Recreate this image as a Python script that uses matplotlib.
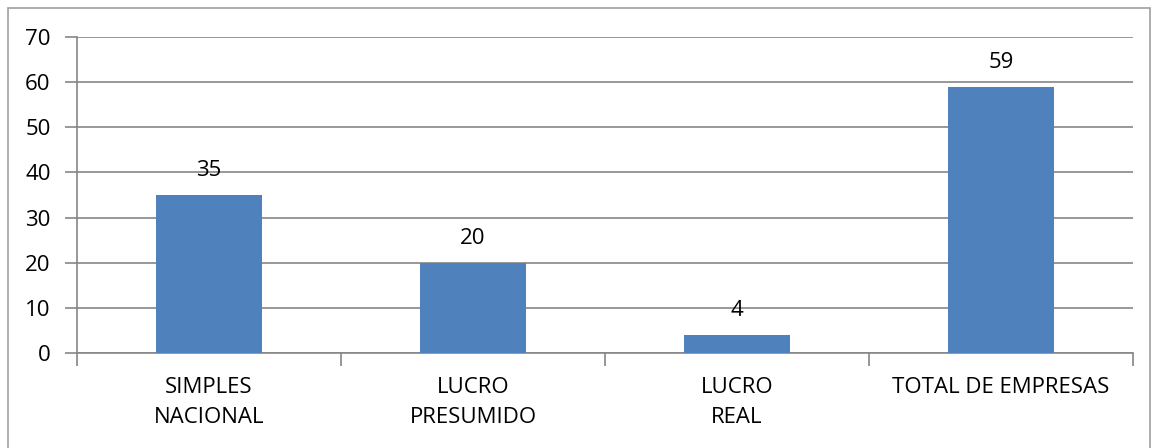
import matplotlib.pyplot as plt
from matplotlib.patches import Rectangle

categorias = ['SIMPLES\nNACIONAL', 'LUCRO\nPRESUMIDO', 'LUCRO\nREAL', 'TOTAL DE EMPRESAS']
valores = [35, 20, 4, 59]

plt.rcParams['font.family'] = ['Open Sans', 'DejaVu Sans']
fs = 16

fig = plt.figure(figsize=(11.6, 4.48), dpi=100)
ax = fig.add_axes([77/1160, (448-353)/448, 1056/1160, 316/448])

# moldura externa
fig.patches.append(Rectangle((8/1160, -0.05), 1142/1160, 1.05 - 8/448,
                             transform=fig.transFigure, fill=False,
                             edgecolor='#a0a0a0', linewidth=1.2))

x = range(len(categorias))
ax.bar(x, valores, width=0.4, color='#4f81bd', zorder=3)
for i, v in enumerate(valores):
    ax.text(i, v + 3.0, str(v), ha='center', va='bottom', fontsize=fs)

ax.set_xlim(-0.5, 3.5)
ax.set_ylim(0, 70)
ax.set_yticks(range(0, 71, 10))
ax.yaxis.grid(True, color='#868686', linewidth=1.2, zorder=0)
ax.tick_params(axis='y', labelsize=fs, length=9, color='#868686', width=1.2, pad=10)

ax.set_xticks([-0.5, 0.5, 1.5, 2.5, 3.5])
ax.set_xticklabels([])
ax.tick_params(axis='x', length=9, color='#868686', width=1.2)
ax.set_xticks(list(x), minor=True)
ax.set_xticklabels(categorias, minor=True, fontsize=fs, linespacing=1.6)
ax.tick_params(axis='x', which='minor', length=0, pad=17)

for s in ['top', 'right']:
    ax.spines[s].set_visible(False)
for s in ['left', 'bottom']:
    ax.spines[s].set_color('#868686')
    ax.spines[s].set_linewidth(1.2)

fig.savefig('out.png', dpi=100)
